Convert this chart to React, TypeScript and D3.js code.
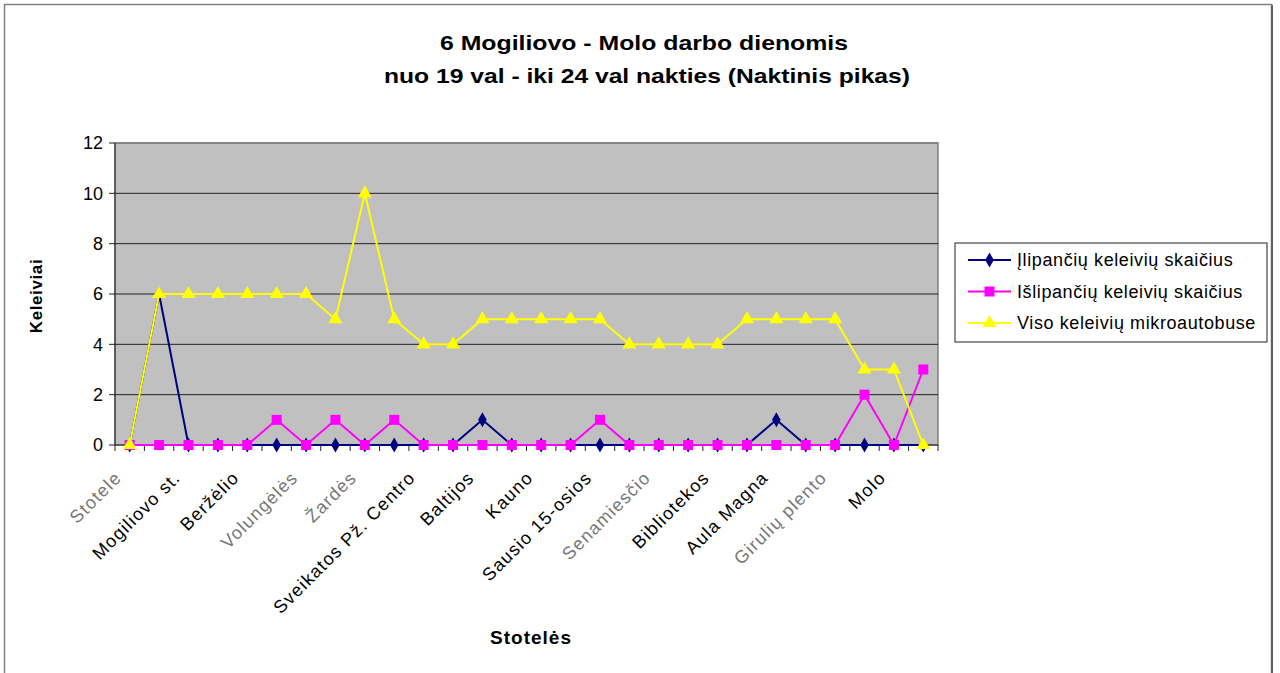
import React from "react";
import * as d3 from "d3";

const categories: string[] = [
  "Stotele", "", "Mogiliovo st.", "", "Beržėlio", "", "Volungėlės", "", "Žardės", "",
  "Sveikatos Pž. Centro", "", "Baltijos", "", "Kauno", "", "Sausio 15-osios", "",
  "Senamiesčio", "", "Bibliotekos", "", "Aula Magna", "", "Girulių plento", "", "Molo", "",
];
const fadedLabels: string[] = ["Stotele", "Volungėlės", "Žardės", "Senamiesčio", "Girulių plento"];

const boarding: number[] = [0, 6, 0, 0, 0, 0, 0, 0, 0, 0, 0, 0, 1, 0, 0, 0, 0, 0, 0, 0, 0, 0, 1, 0, 0, 0, 0, 0];
const alighting: number[] = [0, 0, 0, 0, 0, 1, 0, 1, 0, 1, 0, 0, 0, 0, 0, 0, 1, 0, 0, 0, 0, 0, 0, 0, 0, 2, 0, 3];
const total: number[] = [0, 6, 6, 6, 6, 6, 6, 5, 10, 5, 4, 4, 5, 5, 5, 5, 5, 4, 4, 4, 4, 5, 5, 5, 5, 3, 3, 0];

const yTicks: number[] = [0, 2, 4, 6, 8, 10, 12];

const seriesNames: string[] = [
  "Įlipančių keleivių skaičius",
  "Išlipančių keleivių skaičius",
  "Viso keleivių mikroautobuse",
];
const seriesColors: string[] = ["#000080", "#FF00FF", "#FFFF00"];
const seriesShapes = [d3.symbolDiamond, d3.symbolSquare, d3.symbolTriangle];
const seriesSizes: number[] = [65, 100, 85];

const FONT = "'Liberation Sans', Arial, sans-serif";

export default function App() {
  const W = 1280, H = 673;
  const left = 115, right = 938, top = 143, bottom = 445;
  const x = d3.scaleBand<number>().domain(d3.range(categories.length)).range([left, right]).padding(0);
  const cx = (i: number) => (x(i) as number) + x.bandwidth() / 2;
  const y = d3.scaleLinear().domain([0, 12]).range([bottom, top]);
  const data = [boarding, alighting, total];
  const line = d3.line<number>().x((_, i) => cx(i)).y((d) => y(d));

  const boundaries = d3.range(categories.length + 1).map((i) =>
    i < categories.length ? (x(i) as number) : right
  );

  return (
    <svg width={W} height={H} style={{ position: "absolute", left: 0, top: 0, background: "#fff" }} fontFamily={FONT}>
      <rect x={4.5} y={4.5} width={1267} height={700} fill="#fff" stroke="#808080" strokeWidth={1.5} />
      <line x1={1272} x2={1272} y1={5} y2={H} stroke="#606060" strokeWidth={2} />
      <text x={644} y={50} textAnchor="middle" fontSize={21} fontWeight="bold" textLength={408} lengthAdjust="spacingAndGlyphs">6 Mogiliovo - Molo darbo dienomis</text>
      <text x={647} y={83} textAnchor="middle" fontSize={21} fontWeight="bold" textLength={526} lengthAdjust="spacingAndGlyphs">nuo 19 val - iki 24 val nakties (Naktinis pikas)</text>

      <rect x={left} y={top} width={right - left} height={bottom - top} fill="#C0C0C0" stroke="#808080" strokeWidth={1.5} />
      {yTicks.filter((t) => t !== 0 && t !== 12).map((t) => (
        <line key={t} x1={left} x2={right} y1={y(t)} y2={y(t)} stroke="#222" strokeWidth={1} />
      ))}
      <line x1={left} x2={right} y1={y(12)} y2={y(12)} stroke="#808080" strokeWidth={1.5} />
      <line x1={left} x2={left} y1={top} y2={bottom} stroke="#222" strokeWidth={1} />
      <line x1={left} x2={right} y1={bottom} y2={bottom} stroke="#222" strokeWidth={1} />
      {yTicks.map((t) => (
        <g key={t}>
          <line x1={left - 6} x2={left} y1={y(t)} y2={y(t)} stroke="#222" />
          <text x={left - 12} y={y(t)} dy="0.35em" textAnchor="end" fontSize={18}>{t}</text>
        </g>
      ))}
      {boundaries.map((bx, i) => (
        <line key={i} x1={bx} x2={bx} y1={bottom} y2={bottom + 6} stroke="#222" />
      ))}
      {categories.map((c, i) =>
        c ? (
          <text
            key={i}
            transform={`translate(${cx(i) - 16},${bottom + 25}) rotate(-45)`}
            textAnchor="end"
            dy="0.7em"
            fontSize={18}
            letterSpacing={1.2}
            fill={fadedLabels.includes(c) ? "#777" : "#000"}
          >
            {c}
          </text>
        ) : null
      )}

      {data.map((vals, s) => (
        <g key={s}>
          <path d={line(vals) || ""} fill="none" stroke={seriesColors[s]} strokeWidth={2} />
          {vals.map((v, i) => (
            <path
              key={i}
              transform={`translate(${cx(i)},${y(v)})`}
              d={d3.symbol().type(seriesShapes[s]).size(seriesSizes[s])() || ""}
              fill={seriesColors[s]}
            />
          ))}
        </g>
      ))}

      <text transform={`translate(42,${(top + bottom) / 2 + 2}) rotate(-90)`} textAnchor="middle" fontSize={17} fontWeight="bold" letterSpacing={0.6}>Keleiviai</text>
      <text x={531} y={644} textAnchor="middle" fontSize={19} fontWeight="bold" letterSpacing={1}>Stotelės</text>

      <rect x={955} y={243} width={312} height={99} fill="#fff" stroke="#222" strokeWidth={1} />
      {seriesNames.map((n, s) => {
        const ly = 260 + s * 31.5;
        return (
          <g key={s}>
            <line x1={968} x2={1011} y1={ly} y2={ly} stroke={seriesColors[s]} strokeWidth={2} />
            <path transform={`translate(989.5,${ly})`} d={d3.symbol().type(seriesShapes[s]).size(seriesSizes[s])() || ""} fill={seriesColors[s]} />
            <text x={1017} y={ly} dy="0.35em" fontSize={18} letterSpacing={0.6}>{n}</text>
          </g>
        );
      })}
    </svg>
  );
}
